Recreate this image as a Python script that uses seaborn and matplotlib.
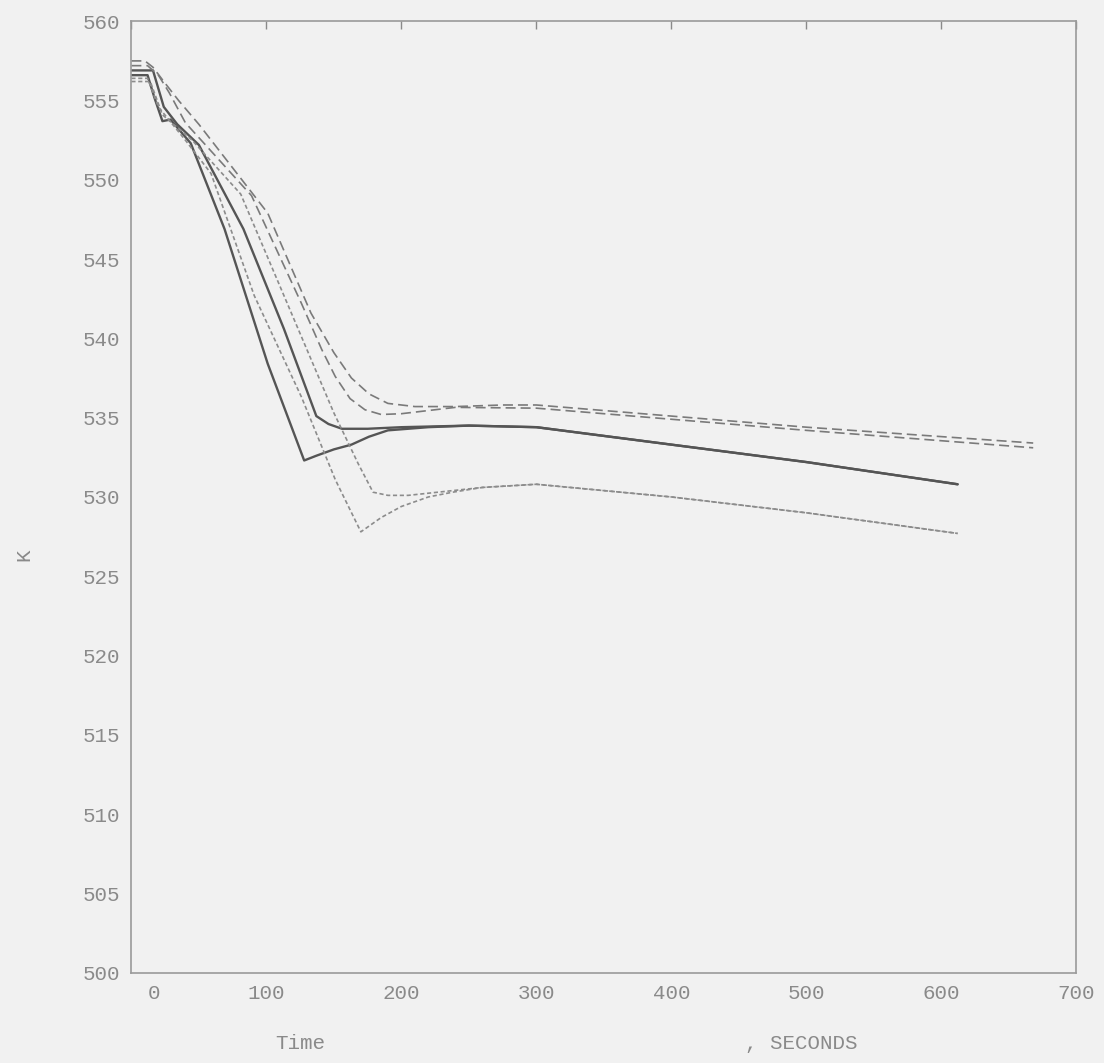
import numpy as np
import matplotlib
matplotlib.use("Agg")
import matplotlib.pyplot as plt
import matplotlib.transforms as mtransforms
import seaborn as sns

# (time in s, temperature in K)
solid_low_t = [0, 12, 17, 23, 29, 44, 69, 101, 128, 137, 150, 163, 176, 190, 220, 250, 300, 400, 500, 612]
solid_low_k = [556.6, 556.6, 555.2, 553.7, 553.8, 552.3, 546.9, 538.4, 532.3, 532.6, 533.0, 533.3,
               533.8, 534.2, 534.4, 534.5, 534.4, 533.3, 532.2, 530.8]

solid_up_t = [0, 16, 24, 34, 50, 83, 113, 137, 146, 156, 175, 200, 250, 300, 400, 500, 612]
solid_up_k = [556.9, 556.9, 554.6, 553.5, 552.2, 546.9, 540.6, 535.1, 534.6, 534.3, 534.3, 534.4,
              534.5, 534.4, 533.3, 532.2, 530.8]

dot_a_t = [0, 12, 20, 40, 59, 91, 126, 151, 170, 185, 200, 220, 238, 260, 300, 400, 500, 612]
dot_a_k = [556.4, 556.4, 554.6, 552.5, 550.4, 542.7, 536.3, 531.1, 527.8, 528.7, 529.4, 530.0,
           530.3, 530.6, 530.8, 530.0, 529.0, 527.7]

dot_b_t = [0, 14, 23, 45, 81, 113, 150, 168, 179, 190, 205, 238, 260, 300, 400, 500, 612]
dot_b_k = [556.2, 556.2, 554.1, 552.5, 549.1, 542.7, 535.3, 532.1, 530.3, 530.1, 530.1, 530.4,
           530.6, 530.8, 530.0, 529.0, 527.7]

dash_out_t = [0, 10, 16, 24, 35, 50, 101, 133, 150, 163, 176, 190, 210, 240, 275, 300, 400, 500, 668]
dash_out_k = [557.5, 557.5, 557.1, 556.2, 555.0, 553.5, 547.9, 541.6, 539.1, 537.5, 536.5, 535.9,
              535.7, 535.7, 535.8, 535.8, 535.1, 534.4, 533.4]

dash_in_t = [0, 12, 20, 28, 40, 89, 126, 141, 151, 162, 173, 185, 200, 215, 240, 300, 400, 500, 668]
dash_in_k = [557.2, 557.2, 556.6, 555.5, 553.6, 549.0, 542.2, 539.3, 537.6, 536.2, 535.5, 535.2,
             535.25, 535.4, 535.65, 535.6, 534.9, 534.2, 533.1]

x_ticks = [0, 100, 200, 300, 400, 500, 600, 700]
y_ticks = [500, 505, 510, 515, 520, 525, 530, 535, 540, 545, 550, 555, 560]

sns.set_style("white")
plt.rcParams["font.family"] = ["Liberation Mono", "DejaVu Sans Mono"]

bg = "#f1f1f1"
fig = plt.figure(figsize=(11.04, 10.63), dpi=100, facecolor=bg)
ax = fig.add_axes([0.119, 0.085, 0.856, 0.895], facecolor=bg)

series = [
    (solid_low_t, solid_low_k, "-", "#555555", 1.7),
    (solid_up_t, solid_up_k, "-", "#555555", 1.7),
    (dot_a_t, dot_a_k, (0, (2.5, 1.6)), "#8c8c8c", 1.2),
    (dot_b_t, dot_b_k, (0, (2.5, 1.6)), "#8c8c8c", 1.2),
    (dash_out_t, dash_out_k, (0, (6, 3)), "#7a7a7a", 1.2),
    (dash_in_t, dash_in_k, (0, (6, 3)), "#7a7a7a", 1.2),
]
for t, k, ls, col, lw in series:
    sns.lineplot(x=t, y=k, ax=ax, sort=False, estimator=None, color=col,
                 linestyle=ls, linewidth=lw)

ax.set_xlim(0, 700)
ax.set_ylim(500, 560)
ax.set_xticks(x_ticks)
ax.set_yticks(y_ticks)
ax.tick_params(direction="in", length=6, width=1, colors="#8a8a8a",
               labelcolor="#8a8a8a", labelsize=15, top=True, right=False, pad=8)
for s in ax.spines.values():
    s.set_color("#9a9a9a")
    s.set_linewidth(1.2)

# the "0" label sits a little right of its tick in the original
lab0 = ax.get_xticklabels()[0]
lab0.set_transform(lab0.get_transform() + mtransforms.ScaledTranslation(0.23, 0, fig.dpi_scale_trans))

fig.text(0.022, 0.478, "K", rotation=90, ha="center", va="center", fontsize=15, color="#8a8a8a")
fig.text(0.272, 0.018, "Time", ha="center", va="center", fontsize=15, color="#8a8a8a")
fig.text(0.726, 0.018, ", SECONDS", ha="center", va="center", fontsize=15, color="#8a8a8a")

plt.savefig("out.png", dpi=100, facecolor=bg)
plt.close()
